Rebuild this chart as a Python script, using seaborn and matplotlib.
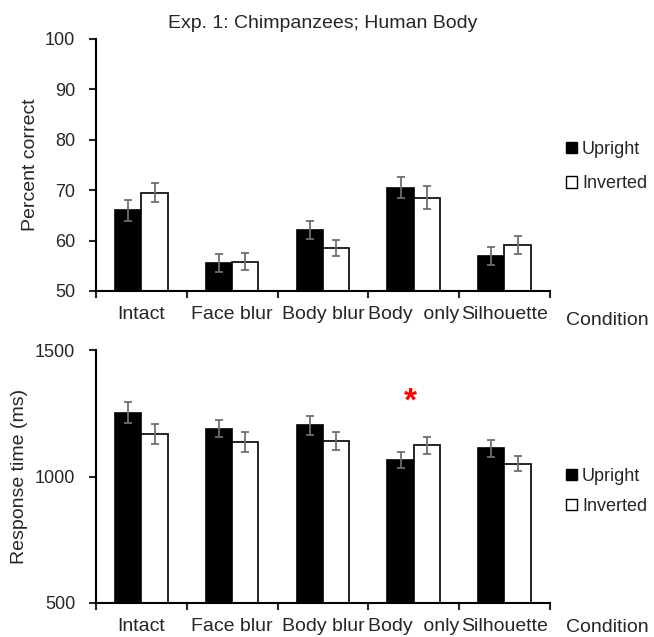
import numpy as np
import pandas as pd
import seaborn as sns
import matplotlib.pyplot as plt
from matplotlib.patches import Patch
from matplotlib.ticker import FixedLocator, NullFormatter, FixedFormatter

conditions = ['Intact', 'Face blur', 'Body blur', 'Body  only', 'Silhouette']
orientations = ['Upright', 'Inverted']

# percent correct (Exp. 1)
pc_upright = [66.0, 55.6, 62.1, 70.5, 56.9]
pc_inverted = [69.5, 55.8, 58.5, 68.5, 59.1]
pc_upright_err = [2.1, 1.8, 1.85, 2.1, 1.8]
pc_inverted_err = [1.85, 1.65, 1.65, 2.3, 1.85]

# response time (ms)
rt_upright = [1253, 1189, 1202, 1066, 1111]
rt_inverted = [1168, 1136, 1142, 1123, 1050]
rt_upright_err = [40, 33, 36, 33, 33]
rt_inverted_err = [40, 39, 36, 32, 30]

sig_condition = 'Body  only'
sig_y = 1295

colors = {'Upright': 'black', 'Inverted': 'white'}
err_color = '#6e6e6e'


def make_frame(up, inv, up_err, inv_err):
    rows = []
    for i, c in enumerate(conditions):
        rows.append([c, 'Upright', up[i], up_err[i]])
        rows.append([c, 'Inverted', inv[i], inv_err[i]])
    return pd.DataFrame(rows, columns=['condition', 'orientation', 'value', 'err'])


def draw_panel(ax, df, ylim, yticks, ylabel, labelpad, cond_y, leg_y, leg_space):
    sns.barplot(data=df, x='condition', y='value', hue='orientation',
                order=conditions, hue_order=orientations, palette=colors,
                edgecolor='black', linewidth=1.2, width=0.58, saturation=1,
                errorbar=None, legend=False, ax=ax)
    # error bars on top of each bar
    for cont, o in zip(ax.containers, orientations):
        sub = df[df['orientation'] == o].set_index('condition').loc[conditions]
        xs = [p.get_x() + p.get_width() / 2 for p in cont]
        ax.errorbar(xs, sub['value'].values, yerr=sub['err'].values, fmt='none',
                    ecolor=err_color, elinewidth=1.3, capsize=3, capthick=1.3, zorder=5)

    ax.set_ylim(*ylim)
    ax.set_yticks(yticks)
    ax.set_xlim(-0.5, len(conditions) - 0.5)
    ax.xaxis.set_major_locator(FixedLocator(np.arange(-0.5, len(conditions), 1.0)))
    ax.xaxis.set_major_formatter(NullFormatter())
    ax.xaxis.set_minor_locator(FixedLocator(np.arange(len(conditions))))
    ax.xaxis.set_minor_formatter(FixedFormatter(conditions))
    ax.tick_params(axis='x', which='minor', length=0, pad=11, labelsize=14)
    ax.tick_params(axis='x', which='major', length=5, width=1.5, direction='out')
    ax.tick_params(axis='y', length=5, width=1.5, direction='out', labelsize=13, pad=10)
    ax.set_xlabel('')
    ax.set_ylabel(ylabel, fontsize=14, labelpad=labelpad)
    sns.despine(ax=ax)
    for s in ['left', 'bottom']:
        ax.spines[s].set_linewidth(1.5)
        ax.spines[s].set_color('black')

    ax.text(1.035, cond_y, 'Condition', transform=ax.transAxes,
            ha='left', va='center', fontsize=14)

    handles = [Patch(facecolor=colors[o], edgecolor='black', linewidth=1.0, label=o)
               for o in orientations]
    ax.legend(handles=handles, loc='upper left', bbox_to_anchor=(1.035, leg_y),
              frameon=False, fontsize=13, borderaxespad=0, borderpad=0,
              handlelength=0.6, handleheight=0.6, handletextpad=0.3,
              labelspacing=leg_space)


sns.set_style('ticks')
plt.rcParams['font.family'] = ['Liberation Sans', 'DejaVu Sans']

fig = plt.figure(figsize=(6.54, 6.37), dpi=100)
ax1 = fig.add_axes([0.1468, 0.5432, 0.694, 0.3956])
ax2 = fig.add_axes([0.1468, 0.0534, 0.694, 0.397])

pc = make_frame(pc_upright, pc_inverted, pc_upright_err, pc_inverted_err)
rt = make_frame(rt_upright, rt_inverted, rt_upright_err, rt_inverted_err)

draw_panel(ax1, pc, (50, 100), [50, 60, 70, 80, 90, 100], 'Percent correct', 4,
           -0.119, 0.595, 0.95)
draw_panel(ax2, rt, (500, 1500), [500, 1000, 1500], 'Response time (ms)', 5,
           -0.095, 0.534, 0.72)

ax1.set_title('Exp. 1: Chimpanzees; Human Body', fontsize=14, pad=8)

ax2.text(conditions.index(sig_condition) - 0.04, sig_y, '*', color='red',
         fontsize=24, fontweight='bold', ha='center', va='center')

fig.savefig('out.png', dpi=100)
